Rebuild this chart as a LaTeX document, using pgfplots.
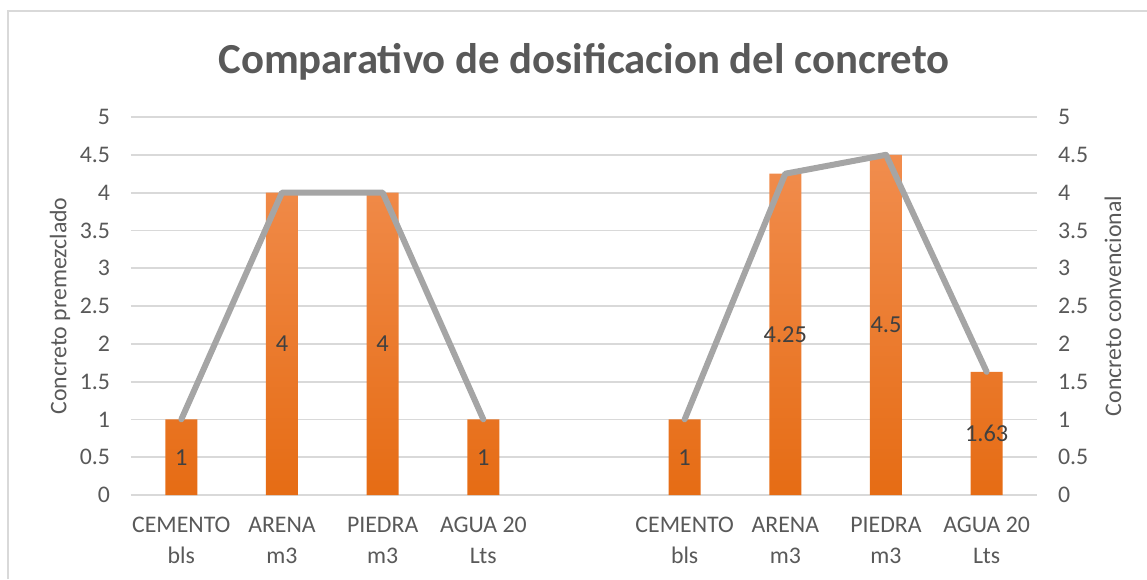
\documentclass[border=0pt]{standalone}
\usepackage{pgfplots}
\pgfplotsset{compat=1.18}
\usepackage{fontspec}
\setmainfont{Carlito}
\definecolor{txt}{HTML}{595959}
\definecolor{lbl}{HTML}{404040}
\definecolor{barTop}{HTML}{F18D4E}
\definecolor{barBot}{HTML}{E66C14}
\definecolor{lineG}{HTML}{A5A5A5}
\definecolor{gridG}{HTML}{D9D9D9}
\definecolor{frameG}{HTML}{D9D9D9}
\begin{document}
\begin{tikzpicture}
\path[use as bounding box] (0,0) rectangle (573.5pt,289.5pt);
\draw[frameG, line width=1pt] (4pt,0) -- (4pt,284pt) -- (573.5pt,284pt);
\begin{axis}[
  at={(65.5pt,42pt)}, anchor=south west,
  scale only axis, width=453pt, height=189pt,
  xmin=-0.5, xmax=8.5, ymin=0, ymax=5,
  ytick={0,0.5,...,5},
  yticklabels={0,0.5,1,1.5,2,2.5,3,3.5,4,4.5,5},
  xtick={0,1,2,3,5,6,7,8},
  xticklabels={{CEMENTO\\bls},{ARENA\\m3},{PIEDRA\\m3},{AGUA 20\\Lts},{CEMENTO\\bls},{ARENA\\m3},{PIEDRA\\m3},{AGUA 20\\Lts}},
  xticklabel style={align=center, font=\fontsize{11.9}{15.5}\selectfont, text=txt, yshift=-7.5pt},
  yticklabel style={font=\fontsize{11.9}{14}\selectfont, text=txt, xshift=-7pt},
  /pgf/number format/assume math mode=true,
  axis line style={draw=none},
  tick style={draw=none},
  ymajorgrids, major grid style={draw=gridG, line width=0.9pt},
  ylabel={Concreto premezclado},
  ylabel style={font=\fontsize{11.9}{14}\selectfont, text=txt, at={(-0.0784,0.5)}, anchor=center},
  title={\textbf{Comparativo de dosificacion del concreto}},
  title style={font=\fontsize{21.4}{24}\selectfont, text=txt, at={(0.5,1)}, anchor=base, yshift=16pt},
  clip=false,
]
\addplot[ybar, bar width=16pt, draw=none, top color=barTop, bottom color=barBot]
  coordinates {(0,1) (1,4) (2,4) (3,1) (5,1) (6,4.25) (7,4.5) (8,1.63)};
\addplot[lineG, line width=3pt, line join=round, line cap=round]
  coordinates {(0,1) (1,4) (2,4) (3,1)};
\addplot[lineG, line width=3pt, line join=round, line cap=round]
  coordinates {(5,1) (6,4.25) (7,4.5) (8,1.63)};
\addplot[only marks, mark=none, nodes near coords, point meta=explicit symbolic,
  every node near coord/.style={anchor=center, font=\fontsize{12.2}{14}\selectfont, text=lbl}]
  table[meta=lab] {
x y lab
0 0.5 1
1 2 4
2 2 4
3 0.5 1
5 0.5 1
6 2.125 4.25
7 2.25 4.5
8 0.815 1.63
};
\end{axis}
\begin{axis}[
  at={(65.5pt,42pt)}, anchor=south west,
  scale only axis, width=453pt, height=189pt,
  xmin=-0.5, xmax=8.5, ymin=0, ymax=5,
  axis x line=none, axis y line*=right,
  axis line style={draw=none},
  tick style={draw=none},
  ytick={0,0.5,...,5},
  yticklabels={0,0.5,1,1.5,2,2.5,3,3.5,4,4.5,5},
  yticklabel style={font=\fontsize{11.9}{14}\selectfont, text=txt, xshift=7pt},
  ylabel={Concreto convencional},
  ylabel style={font=\fontsize{11.9}{14}\selectfont, text=txt, at={(1.0839,0.5)}, anchor=center},
]
\end{axis}
\end{tikzpicture}
\end{document}
